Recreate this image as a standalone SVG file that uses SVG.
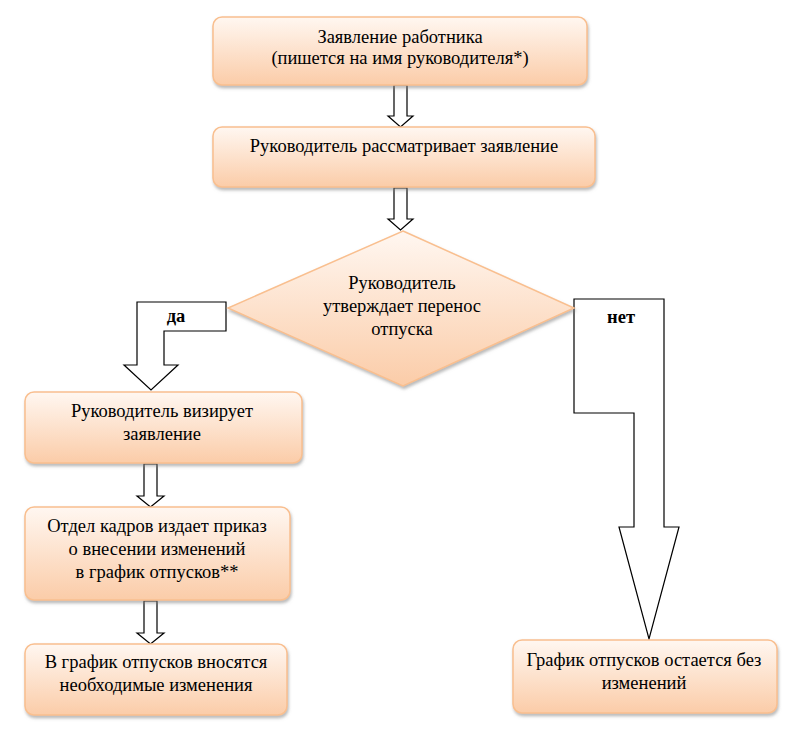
<svg xmlns="http://www.w3.org/2000/svg" width="795" height="732" viewBox="0 0 795 732">
<defs>
<linearGradient id="g" x1="0" y1="0" x2="0" y2="1">
<stop offset="0" stop-color="#fff7f1"/>
<stop offset="1" stop-color="#fbcca8"/>
</linearGradient>
<filter id="sh" x="-10%" y="-10%" width="120%" height="130%">
<feDropShadow dx="1" dy="2.5" stdDeviation="1.5" flood-color="#808080" flood-opacity="0.55"/>
</filter>
<style>
.box{fill:url(#g);stroke:#f9bf8f;stroke-width:1.5;filter:url(#sh)}
.ar{fill:#fff;stroke:#000;stroke-width:1.2;stroke-linejoin:miter}
</style>
</defs>
<rect width="795" height="732" fill="#fff"/>
<g font-family="Liberation Serif" font-size="18.5" text-anchor="middle" fill="#000">
<g id="connectors">
<path class="ar" d="M394,85 L407,85 L407,116 L413,116 L400.5,127 L388,116 L394,116 Z"/>
<path class="ar" d="M394,188 L407,188 L407,219 L413,219 L400.5,230 L388,219 L394,219 Z"/>
<path class="ar" d="M226,302 L137,302 L137,365 L124,365 L151,390 L178,365 L164,365 L164,331 L226,331 Z"/>
<path class="ar" d="M574,299 L664,299 L664,527 L679,527 L649,639 L619,527 L634,527 L634,413 L574,413 Z"/>
<path class="ar" d="M144,464 L157,464 L157,496 L164,496 L150.5,507 L137,496 L144,496 Z"/>
<path class="ar" d="M144,601 L157,601 L157,633 L164,633 L150.5,644 L137,633 L144,633 Z"/>
<text x="176" y="322" font-weight="bold">да</text>
<text x="621" y="323" font-weight="bold">нет</text>
</g>
<g id="n1">
<rect class="box" x="213" y="17" width="374" height="68" rx="9"/>
<text x="400" y="43">Заявление работника</text>
<text x="400" y="64">(пишется на имя руководителя*)</text>
</g>
<g id="n2">
<rect class="box" x="213" y="127" width="382" height="60" rx="9"/>
<text x="404" y="152">Руководитель рассматривает заявление</text>
</g>
<g id="n3">
<path class="box" d="M403,231 L574,308 L403,386 L228,308 Z"/>
<text x="402" y="289">Руководитель</text>
<text x="402" y="312">утверждает перенос</text>
<text x="402" y="335">отпуска</text>
</g>
<g id="n4">
<rect class="box" x="25" y="392" width="277" height="71" rx="9"/>
<text x="162" y="417">Руководитель визирует</text>
<text x="162" y="440">заявление</text>
</g>
<g id="n5">
<rect class="box" x="25" y="507" width="265" height="93" rx="9"/>
<text x="157" y="532">Отдел кадров издает приказ</text>
<text x="157" y="555">о внесении изменений</text>
<text x="157" y="578">в график отпусков**</text>
</g>
<g id="n6">
<rect class="box" x="25" y="644" width="262" height="71" rx="9"/>
<text x="156" y="668">В график отпусков вносятся</text>
<text x="156" y="691">необходимые изменения</text>
</g>
<g id="n7">
<rect class="box" x="513" y="640" width="264" height="73" rx="9"/>
<text x="644" y="666">График отпусков остается без</text>
<text x="644" y="689">изменений</text>
</g>
</g>
</svg>
